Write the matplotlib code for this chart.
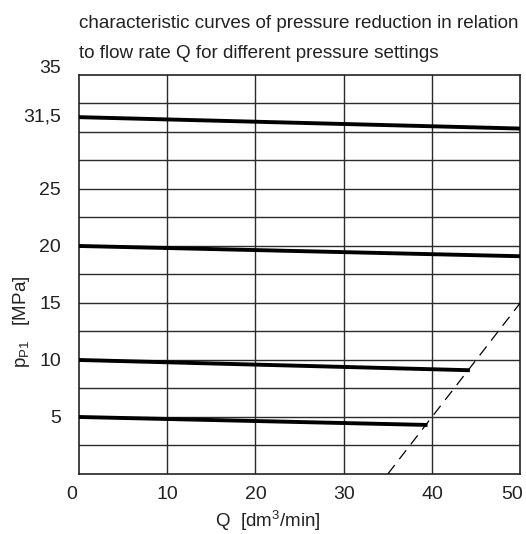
import numpy as np
import matplotlib
matplotlib.use('Agg')
from matplotlib import pyplot as plt
from matplotlib.transforms import ScaledTranslation

plt.rcParams['font.family'] = ['Liberation Sans', 'DejaVu Sans']
plt.rcParams['mathtext.fontset'] = 'custom'
plt.rcParams['mathtext.rm'] = 'Liberation Sans'
plt.rcParams['mathtext.it'] = 'Liberation Sans'

# characteristic curves: (Q start, Q end), (p start, p end)
q_315 = [0, 50]
p_315 = [31.3, 30.3]
q_20 = [0, 50]
p_20 = [20.0, 19.1]
q_10 = [0, 44.3]
p_10 = [10.0, 9.1]
q_5 = [0, 39.5]
p_5 = [5.0, 4.3]
# limit line
q_lim = [35, 50]
p_lim = [0, 15]

yticks = [5, 10, 15, 20, 25, 31.5, 35]
ylabels = ['5', '10', '15', '20', '25', '31,5', '35']
xticks = [0, 10, 20, 30, 40, 50]

fig = plt.figure(figsize=(5.26, 5.34), dpi=100)
ax = fig.add_axes([0.150, 0.1124, 0.839, 0.7472])

for y in np.arange(2.5, 35, 2.5):
    ax.axhline(y, color='#2a2a2a', lw=1.0, zorder=1)
for x in [10, 20, 30, 40]:
    ax.axvline(x, color='#2a2a2a', lw=1.0, zorder=1)

for q, p in [(q_315, p_315), (q_20, p_20), (q_10, p_10), (q_5, p_5)]:
    ax.plot(q, p, color='black', lw=2.8, solid_capstyle='butt', zorder=3)
ax.plot(q_lim, p_lim, color='black', lw=0.9, dashes=(9, 6), zorder=3)

ax.set_xlim(0, 50)
ax.set_ylim(0, 35)
ax.set_xticks(xticks)
ax.set_xticklabels([str(v) for v in xticks])
ax.set_yticks(yticks)
ax.set_yticklabels(ylabels)
ax.tick_params(length=0, labelsize=14, colors='#222222')
ax.tick_params(axis='x', pad=9)
ax.tick_params(axis='y', pad=13)
for sp in ax.spines.values():
    sp.set_linewidth(1.2)
    sp.set_color('#222222')

xl = ax.get_xticklabels()
xl[0].set_transform(xl[0].get_transform() + ScaledTranslation(-5 / 72, 0, fig.dpi_scale_trans))
xl[-1].set_transform(xl[-1].get_transform() + ScaledTranslation(-6 / 72, 0, fig.dpi_scale_trans))
yl = ax.get_yticklabels()
yl[-1].set_transform(yl[-1].get_transform() + ScaledTranslation(0, 6 / 72, fig.dpi_scale_trans))

fig.text(0.150, 0.9476, 'characteristic curves of pressure reduction in relation',
         fontsize=13.6, ha='left', va='baseline', color='#222222')
fig.text(0.150, 0.892, 'to flow rate Q for different pressure settings',
         fontsize=13.6, ha='left', va='baseline', color='#222222')

fig.text(0.040, 0.398, r'p$_{\mathrm{P1}}$   [MPa]', rotation=90, fontsize=13.5,
         ha='center', va='center', color='#222222')
fig.text(0.509, 0.013, r'Q  [dm$^{3}$/min]', fontsize=13.5, ha='center', va='baseline',
         color='#222222')

fig.savefig('out.png', dpi=100)
